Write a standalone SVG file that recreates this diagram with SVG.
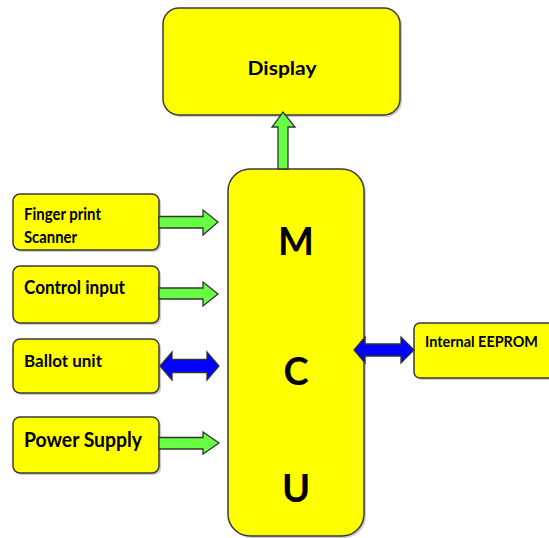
<svg xmlns="http://www.w3.org/2000/svg" width="549" height="538" viewBox="0 0 549 538">
<style>
.box{fill:#FFFF00;stroke:#3a3a3a;stroke-width:1.5}
.shadow{fill:#9a9a9a;opacity:0.5}
.t{font-family:Lato,"Liberation Sans",sans-serif;font-weight:bold;fill:#000}
.g{fill:#66FF44;stroke:#333;stroke-width:1.3;stroke-linejoin:miter}
.b{fill:#0000FF;stroke:#333;stroke-width:1.3;stroke-linejoin:miter}
</style>
<rect width="549" height="538" fill="#fff"/>
<g id="display">
<rect class="shadow" x="165" y="10" width="237" height="107" rx="16"/>
<rect class="box" x="163" y="8" width="237" height="107" rx="16"/>
<text class="t" x="282" y="75" font-size="19" text-anchor="middle" textLength="69" lengthAdjust="spacingAndGlyphs">Display</text>
</g>
<g id="mcu">
<rect class="shadow" x="230" y="171" width="136" height="367" rx="22"/>
<rect class="box" x="228" y="169" width="136" height="367" rx="22"/>
<text class="t" x="296" y="255" font-size="38" text-anchor="middle">M</text>
<text class="t" x="296" y="385" font-size="38" text-anchor="middle">C</text>
<text class="t" x="296" y="502" font-size="38" text-anchor="middle">U</text>
</g>
<g id="finger">
<rect class="shadow" x="15" y="196" width="146" height="56" rx="7"/>
<rect class="box" x="13" y="194" width="146" height="56" rx="7"/>
<text class="t" x="24" y="220" font-size="17" textLength="77" lengthAdjust="spacingAndGlyphs">Finger print</text>
<text class="t" x="24" y="243" font-size="17" textLength="53" lengthAdjust="spacingAndGlyphs">Scanner</text>
</g>
<g id="control">
<rect class="shadow" x="15" y="268" width="146" height="57" rx="7"/>
<rect class="box" x="13" y="266" width="146" height="57" rx="7"/>
<text class="t" x="24" y="294" font-size="19.5" textLength="101" lengthAdjust="spacingAndGlyphs">Control input</text>
</g>
<g id="ballot">
<rect class="shadow" x="15" y="341" width="146" height="54" rx="7"/>
<rect class="box" x="13" y="339" width="146" height="54" rx="7"/>
<text class="t" x="24" y="367" font-size="17.5" textLength="78" lengthAdjust="spacingAndGlyphs">Ballot unit</text>
</g>
<g id="power">
<rect class="shadow" x="15" y="419" width="146" height="56" rx="7"/>
<rect class="box" x="13" y="417" width="146" height="56" rx="7"/>
<text class="t" x="24" y="447" font-size="21" textLength="118" lengthAdjust="spacingAndGlyphs">Power Supply</text>
</g>
<g id="eeprom">
<rect class="shadow" x="416" y="325" width="150" height="55" rx="6"/>
<rect class="box" x="414" y="323" width="150" height="55" rx="6"/>
<text class="t" x="425" y="347" font-size="15.5" textLength="113" lengthAdjust="spacingAndGlyphs">Internal EEPROM</text>
</g>
<g id="connectors">
<polygon class="g" points="278,169 278,127 272,127 283,112 295,127 288,127 288,169"/>
<polygon class="g" points="159,216.5 203,216.5 203,210 218,222 203,235 203,228 159,228"/>
<polygon class="g" points="159,288 203,288 203,282 218,294 203,306 203,299 159,299"/>
<polygon class="b" points="160,366 172,352 172,359.5 207,359.5 207,352 219,366 207,380 207,372.5 172,372.5 172,380"/>
<polygon class="g" points="159,437.5 203,437.5 203,432 219,443 203,454 203,449 159,449"/>
<polygon class="b" points="354,350 365,337 365,344 401,344 401,337 414,350 401,363 401,356 365,356 365,363"/>
</g>
</svg>
